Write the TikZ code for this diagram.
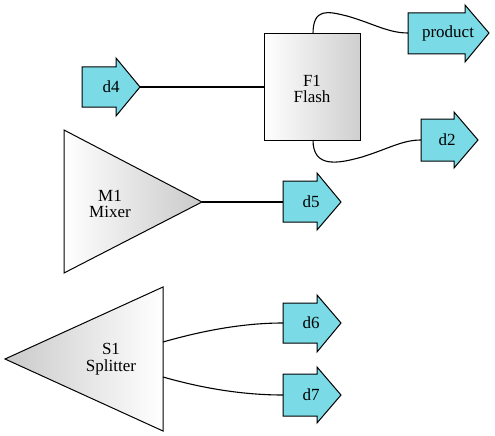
\documentclass[tikz,border=0pt]{standalone}
\usepackage{fontspec}
\setmainfont{Liberation Serif}
\begin{document}
\begin{tikzpicture}[x=1pt,y=-1pt,
  unit/.style={draw=black,line width=1pt},
  stream/.style={draw=black,line width=1pt,fill=streamcyan},
  lbl/.style={font=\fontsize{17}{16.5}\selectfont,align=center,inner sep=0pt},
  link/.style={draw=black,line width=1.1pt}]
\definecolor{streamcyan}{RGB}{122,219,230}
\useasboundingbox (0,0) rectangle (495,436);

% F1 flash drum
\path[unit,left color=white,right color=gray!38] (264,34) rectangle (360,140);
\node[lbl] (f1) at (312,89) {F1\\Flash};
\coordinate (f1w) at (264,87);
\coordinate (f1n) at (313,34);
\coordinate (f1s) at (313,140);

% M1 mixer
\path[unit,left color=white,right color=gray!42] (64,130) -- (64,273) -- (202,202) -- cycle;
\node[lbl] (m1) at (110,204) {M1\\Mixer};
\coordinate (m1e) at (202,202);

% S1 splitter
\path[unit,left color=gray!42,right color=white] (163,287) -- (163,431) -- (5,359) -- cycle;
\node[lbl] (s1) at (111,359) {S1\\Splitter};
\coordinate (s1a) at (163,342);
\coordinate (s1b) at (163,377);

% stream arrows
\path[stream] (82,67) -- (116,67) -- (116,58) -- (140,87) -- (116,116) -- (116,107) -- (82,107) -- cycle;
\node[lbl] (d4) at (111,87) {d4};
\coordinate (d4e) at (140,87);

\path[stream] (408,13) -- (465,13) -- (465,5) -- (489,33) -- (465,62) -- (465,54) -- (408,54) -- cycle;
\node[lbl] (product) at (448,33) {product};
\coordinate (prodw) at (408,33);

\path[stream] (421,119) -- (454,119) -- (454,112) -- (478,140) -- (454,168) -- (454,161) -- (421,161) -- cycle;
\node[lbl] (d2) at (447,140) {d2};
\coordinate (d2w) at (421,140);

\path[stream] (283,181) -- (317,181) -- (317,173) -- (341,202) -- (317,230) -- (317,222) -- (283,222) -- cycle;
\node[lbl] (d5) at (311,202) {d5};
\coordinate (d5w) at (283,202);

\path[stream] (283,303) -- (317,303) -- (317,295) -- (341,323) -- (317,352) -- (317,343) -- (283,343) -- cycle;
\node[lbl] (d6) at (311,323) {d6};
\coordinate (d6w) at (283,323);

\path[stream] (283,374) -- (317,374) -- (317,367) -- (341,395) -- (317,423) -- (317,416) -- (283,416) -- cycle;
\node[lbl] (d7) at (311,395) {d7};
\coordinate (d7w) at (283,395);

% connections
\draw[link] (d4e) -- (f1w);
\draw[link] (m1e) -- (d5w);
\draw[link] (f1n) .. controls (313,8) and (327,11) .. (347,16)
  .. controls (372,23) and (388,33) .. (prodw);
\draw[link] (f1s) .. controls (313,168) and (337,164) .. (362,157)
  .. controls (388,149) and (402,140) .. (d2w);
\draw[link] (s1a) .. controls (205,330) and (245,323) .. (d6w);
\draw[link] (s1b) .. controls (205,389) and (245,395) .. (d7w);
\end{tikzpicture}
\end{document}
